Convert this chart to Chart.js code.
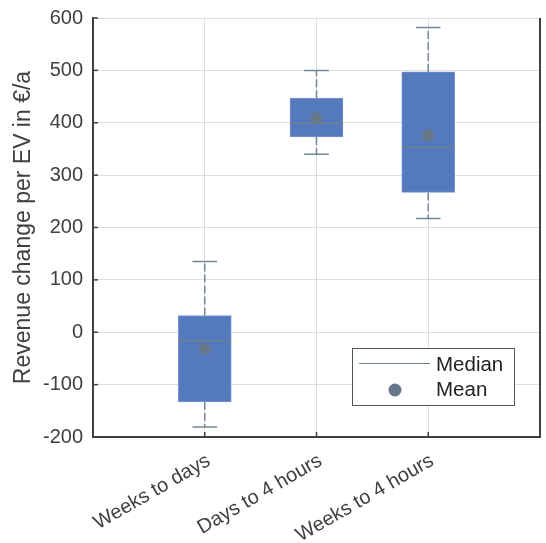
<!DOCTYPE html>
<html>
<head>
<meta charset="utf-8">
<script src="https://cdn.jsdelivr.net/npm/chart.js@4.4.1/dist/chart.umd.min.js"></script>
<style>
  html, body { margin: 0; padding: 0; background: #fff; }
  #wrap { width: 546px; height: 543px; }
</style>
</head>
<body>
<div id="wrap"><canvas id="box"></canvas></div>
<script>
// values
const categories = ['Weeks to days', 'Days to 4 hours', 'Weeks to 4 hours'];
const whiskerLow = [-181, 340, 217];
const q1 = [-133, 373, 267];
const median = [-16, 399, 353];
const q3 = [32, 447, 497];
const whiskerHigh = [135, 500, 582];
const mean = [-32, 408, 376];
const yTicks = [-200, -100, 0, 100, 200, 300, 400, 500, 600];

const axisColor = '#404040';
const boxColor = '#5479bd';
const lineColor = '#6f8093';
const fontFamily = '"Liberation Sans", Arial, sans-serif';
const boxHalf = 0.235;
const capHalf = 0.11;

const gap = i => ({ x: i + 1, y: null });

const whiskers = [];
const caps = [];
const medians = [];
categories.forEach((c, i) => {
    whiskers.push({ x: i + 1, y: q3[i] }, { x: i + 1, y: whiskerHigh[i] }, gap(i));
    whiskers.push({ x: i + 1, y: q1[i] }, { x: i + 1, y: whiskerLow[i] }, gap(i));
    caps.push({ x: i + 1 - capHalf, y: whiskerHigh[i] }, { x: i + 1 + capHalf, y: whiskerHigh[i] }, gap(i));
    caps.push({ x: i + 1 - capHalf, y: whiskerLow[i] }, { x: i + 1 + capHalf, y: whiskerLow[i] }, gap(i));
    medians.push({ x: i + 1 - boxHalf, y: median[i] }, { x: i + 1 + boxHalf, y: median[i] }, gap(i));
});

// inward tick marks, right border and the legend box
const frame = {
    id: 'frame',
    afterDraw(chart) {
        const { ctx, chartArea: a, scales } = chart;
        ctx.save();
        ctx.strokeStyle = axisColor;
        ctx.lineWidth = 2;
        ctx.beginPath();
        ctx.moveTo(a.right, a.top);
        ctx.lineTo(a.right, a.bottom);
        ctx.stroke();
        ctx.lineWidth = 1.5;
        scales.y.ticks.forEach(t => {
            const y = scales.y.getPixelForValue(t.value);
            ctx.beginPath();
            ctx.moveTo(a.left, y);
            ctx.lineTo(a.left + 5, y);
            ctx.stroke();
        });
        scales.x.ticks.forEach(t => {
            const x = scales.x.getPixelForValue(t.value);
            ctx.beginPath();
            ctx.moveTo(x, a.bottom);
            ctx.lineTo(x, a.bottom - 5);
            ctx.stroke();
        });

        // legend
        const lx = a.left + 259, ly = a.top + 330, lw = 162, lh = 57;
        ctx.fillStyle = '#fff';
        ctx.fillRect(lx, ly, lw, lh);
        ctx.strokeStyle = '#555';
        ctx.lineWidth = 1;
        ctx.strokeRect(lx + 0.5, ly + 0.5, lw, lh);
        ctx.strokeStyle = lineColor;
        ctx.beginPath();
        ctx.moveTo(lx + 7, ly + 15.5);
        ctx.lineTo(lx + 78, ly + 15.5);
        ctx.stroke();
        ctx.fillStyle = '#66788a';
        ctx.beginPath();
        ctx.arc(lx + 43, ly + 42, 6.5, 0, Math.PI * 2);
        ctx.fill();
        ctx.fillStyle = '#222';
        ctx.font = '20.5px ' + fontFamily;
        ctx.textBaseline = 'alphabetic';
        ctx.fillText('Median', lx + 84, ly + 23);
        ctx.fillText('Mean', lx + 84, ly + 48);
        ctx.restore();
    }
};

new Chart(document.getElementById('box'), {
    type: 'bar',
    data: {
        datasets: [
            {
                type: 'line',
                data: whiskers,
                borderColor: '#74859a',
                borderWidth: 1.5,
                borderDash: [8, 3],
                pointRadius: 0,
                spanGaps: false,
                order: 4
            },
            {
                type: 'bar',
                data: categories.map((c, i) => ({ x: i + 1, y: [q1[i], q3[i]] })),
                backgroundColor: boxColor,
                borderColor: '#7896d0',
                borderWidth: 1,
                borderSkipped: false,
                barThickness: 53,
                order: 3
            },
            {
                type: 'line',
                data: caps,
                borderColor: '#74859a',
                borderWidth: 1.5,
                pointRadius: 0,
                spanGaps: false,
                order: 2
            },
            {
                type: 'line',
                data: medians,
                borderColor: lineColor,
                borderWidth: 1.5,
                pointRadius: 0,
                spanGaps: false,
                order: 1
            },
            {
                type: 'line',
                data: categories.map((c, i) => ({ x: i + 1, y: mean[i] })),
                showLine: false,
                pointRadius: 6,
                pointBackgroundColor: '#66788a',
                pointBorderWidth: 0,
                order: 0
            }
        ]
    },
    options: {
        responsive: true,
        maintainAspectRatio: false,
        animation: false,
        layout: { padding: { top: 18, right: 2, left: 0, bottom: 0 } },
        plugins: {
            legend: { display: false },
            tooltip: { enabled: false }
        },
        scales: {
            x: {
                type: 'linear',
                min: 0,
                max: 4,
                offset: false,
                afterBuildTicks: s => { s.ticks = categories.map((c, i) => ({ value: i + 1 })); },
                afterFit: s => { s.height = 106; s.paddingLeft = 0; s.paddingRight = 0; },
                ticks: {
                    autoSkip: false,
                    minRotation: 30,
                    maxRotation: 30,
                    padding: 12,
                    labelOffset: 4,
                    color: axisColor,
                    font: { family: fontFamily, size: 20 },
                    callback: v => categories[v - 1]
                },
                grid: { color: '#dedede', lineWidth: 1, drawTicks: false, offset: false },
                border: { color: axisColor, width: 2 }
            },
            y: {
                min: -200,
                max: 600,
                afterBuildTicks: s => { s.ticks = yTicks.map(v => ({ value: v })); },
                afterFit: s => { s.width = 93; s.paddingTop = 0; s.paddingBottom = 0; },
                ticks: {
                    padding: 10,
                    color: axisColor,
                    font: { family: fontFamily, size: 20 }
                },
                grid: { color: '#dedede', lineWidth: 1, drawTicks: false },
                border: { color: axisColor, width: 2 },
                title: {
                    display: true,
                    text: 'Revenue change per EV in €/a',
                    color: axisColor,
                    font: { family: fontFamily, size: 23 },
                    padding: { top: 10, bottom: 0 }
                }
            }
        }
    },
    plugins: [frame]
});
</script>
</body>
</html>
